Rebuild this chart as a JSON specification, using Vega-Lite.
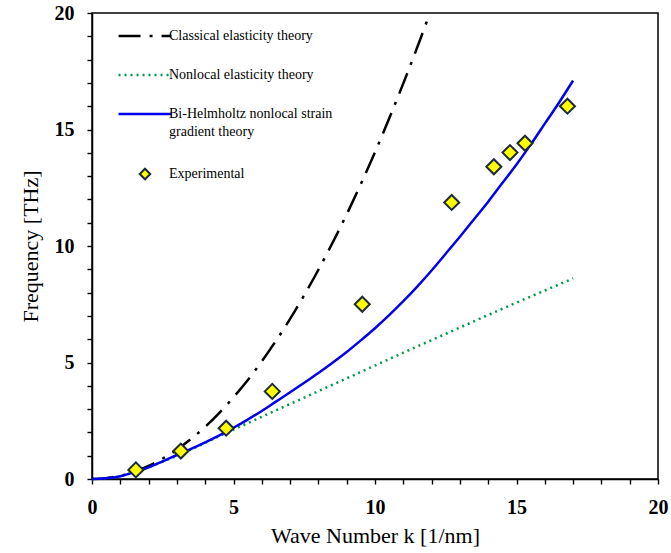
{
  "$schema": "https://vega.github.io/schema/vega-lite/v6.json",
  "autosize": "none",
  "width": 566,
  "height": 466,
  "padding": {"left": 92, "top": 13, "right": 13, "bottom": 74},
  "background": "white",
  "config": {
    "font": "Liberation Serif",
    "view": {"stroke": "#000000", "strokeWidth": 1.5},
    "axis": {
      "grid": false,
      "ticks": true,
      "domainColor": "#000000",
      "domainWidth": 1.5,
      "tickColor": "#000000",
      "tickWidth": 1.4,
      "tickSize": 5,
      "labelFont": "Liberation Serif",
      "labelFontWeight": "bold",
      "labelFontSize": 20,
      "labelColor": "#000000",
      "titleFont": "Liberation Serif",
      "titleFontWeight": "normal",
      "titleFontSize": 22,
      "titleColor": "#000000"
    }
  },
  "datasets": {
    "curves": [
      {"series": "Classical elasticity theory", "k": 0, "freq": 0},
      {"series": "Classical elasticity theory", "k": 0.5, "freq": 0.035},
      {"series": "Classical elasticity theory", "k": 1, "freq": 0.14},
      {"series": "Classical elasticity theory", "k": 1.5, "freq": 0.32},
      {"series": "Classical elasticity theory", "k": 2, "freq": 0.56},
      {"series": "Classical elasticity theory", "k": 2.5, "freq": 0.88},
      {"series": "Classical elasticity theory", "k": 3, "freq": 1.26},
      {"series": "Classical elasticity theory", "k": 3.5, "freq": 1.72},
      {"series": "Classical elasticity theory", "k": 4, "freq": 2.24},
      {"series": "Classical elasticity theory", "k": 4.5, "freq": 2.84},
      {"series": "Classical elasticity theory", "k": 5, "freq": 3.51},
      {"series": "Classical elasticity theory", "k": 5.5, "freq": 4.24},
      {"series": "Classical elasticity theory", "k": 6, "freq": 5.05},
      {"series": "Classical elasticity theory", "k": 6.5, "freq": 5.93},
      {"series": "Classical elasticity theory", "k": 7, "freq": 6.87},
      {"series": "Classical elasticity theory", "k": 7.5, "freq": 7.89},
      {"series": "Classical elasticity theory", "k": 8, "freq": 8.98},
      {"series": "Classical elasticity theory", "k": 8.5, "freq": 10.14},
      {"series": "Classical elasticity theory", "k": 9, "freq": 11.36},
      {"series": "Classical elasticity theory", "k": 9.5, "freq": 12.66},
      {"series": "Classical elasticity theory", "k": 10, "freq": 14.03},
      {"series": "Classical elasticity theory", "k": 10.5, "freq": 15.47},
      {"series": "Classical elasticity theory", "k": 11, "freq": 16.98},
      {"series": "Classical elasticity theory", "k": 11.5, "freq": 18.55},
      {"series": "Classical elasticity theory", "k": 11.94, "freq": 20.0},
      {"series": "Nonlocal elasticity theory", "k": 0, "freq": 0},
      {"series": "Nonlocal elasticity theory", "k": 0.5, "freq": 0.03},
      {"series": "Nonlocal elasticity theory", "k": 1, "freq": 0.12},
      {"series": "Nonlocal elasticity theory", "k": 1.5, "freq": 0.3},
      {"series": "Nonlocal elasticity theory", "k": 2, "freq": 0.5},
      {"series": "Nonlocal elasticity theory", "k": 2.5, "freq": 0.75},
      {"series": "Nonlocal elasticity theory", "k": 3, "freq": 1.0},
      {"series": "Nonlocal elasticity theory", "k": 3.5, "freq": 1.27},
      {"series": "Nonlocal elasticity theory", "k": 4, "freq": 1.55},
      {"series": "Nonlocal elasticity theory", "k": 4.5, "freq": 1.84},
      {"series": "Nonlocal elasticity theory", "k": 5, "freq": 2.12},
      {"series": "Nonlocal elasticity theory", "k": 6, "freq": 2.67},
      {"series": "Nonlocal elasticity theory", "k": 7, "freq": 3.22},
      {"series": "Nonlocal elasticity theory", "k": 8, "freq": 3.77},
      {"series": "Nonlocal elasticity theory", "k": 9, "freq": 4.32},
      {"series": "Nonlocal elasticity theory", "k": 10, "freq": 4.87},
      {"series": "Nonlocal elasticity theory", "k": 11, "freq": 5.42},
      {"series": "Nonlocal elasticity theory", "k": 12, "freq": 5.96},
      {"series": "Nonlocal elasticity theory", "k": 13, "freq": 6.5},
      {"series": "Nonlocal elasticity theory", "k": 14, "freq": 7.04},
      {"series": "Nonlocal elasticity theory", "k": 15, "freq": 7.57},
      {"series": "Nonlocal elasticity theory", "k": 16, "freq": 8.09},
      {"series": "Nonlocal elasticity theory", "k": 17, "freq": 8.61},
      {"series": "Bi-Helmholtz nonlocal strain gradient theory", "k": 0, "freq": 0},
      {"series": "Bi-Helmholtz nonlocal strain gradient theory", "k": 0.5, "freq": 0.03},
      {"series": "Bi-Helmholtz nonlocal strain gradient theory", "k": 1, "freq": 0.12},
      {"series": "Bi-Helmholtz nonlocal strain gradient theory", "k": 1.5, "freq": 0.3},
      {"series": "Bi-Helmholtz nonlocal strain gradient theory", "k": 2, "freq": 0.5},
      {"series": "Bi-Helmholtz nonlocal strain gradient theory", "k": 2.5, "freq": 0.76},
      {"series": "Bi-Helmholtz nonlocal strain gradient theory", "k": 3, "freq": 1.03},
      {"series": "Bi-Helmholtz nonlocal strain gradient theory", "k": 3.5, "freq": 1.29},
      {"series": "Bi-Helmholtz nonlocal strain gradient theory", "k": 4, "freq": 1.57},
      {"series": "Bi-Helmholtz nonlocal strain gradient theory", "k": 4.5, "freq": 1.87},
      {"series": "Bi-Helmholtz nonlocal strain gradient theory", "k": 5, "freq": 2.2},
      {"series": "Bi-Helmholtz nonlocal strain gradient theory", "k": 5.5, "freq": 2.55},
      {"series": "Bi-Helmholtz nonlocal strain gradient theory", "k": 6, "freq": 2.92},
      {"series": "Bi-Helmholtz nonlocal strain gradient theory", "k": 6.5, "freq": 3.32},
      {"series": "Bi-Helmholtz nonlocal strain gradient theory", "k": 7, "freq": 3.72},
      {"series": "Bi-Helmholtz nonlocal strain gradient theory", "k": 7.5, "freq": 4.13},
      {"series": "Bi-Helmholtz nonlocal strain gradient theory", "k": 8, "freq": 4.55},
      {"series": "Bi-Helmholtz nonlocal strain gradient theory", "k": 8.5, "freq": 4.99},
      {"series": "Bi-Helmholtz nonlocal strain gradient theory", "k": 9, "freq": 5.45},
      {"series": "Bi-Helmholtz nonlocal strain gradient theory", "k": 9.5, "freq": 5.95},
      {"series": "Bi-Helmholtz nonlocal strain gradient theory", "k": 10, "freq": 6.47},
      {"series": "Bi-Helmholtz nonlocal strain gradient theory", "k": 10.5, "freq": 7.03},
      {"series": "Bi-Helmholtz nonlocal strain gradient theory", "k": 11, "freq": 7.63},
      {"series": "Bi-Helmholtz nonlocal strain gradient theory", "k": 11.5, "freq": 8.27},
      {"series": "Bi-Helmholtz nonlocal strain gradient theory", "k": 12, "freq": 8.95},
      {"series": "Bi-Helmholtz nonlocal strain gradient theory", "k": 12.5, "freq": 9.67},
      {"series": "Bi-Helmholtz nonlocal strain gradient theory", "k": 13, "freq": 10.4},
      {"series": "Bi-Helmholtz nonlocal strain gradient theory", "k": 13.5, "freq": 11.15},
      {"series": "Bi-Helmholtz nonlocal strain gradient theory", "k": 14, "freq": 11.9},
      {"series": "Bi-Helmholtz nonlocal strain gradient theory", "k": 14.5, "freq": 12.7},
      {"series": "Bi-Helmholtz nonlocal strain gradient theory", "k": 15, "freq": 13.5},
      {"series": "Bi-Helmholtz nonlocal strain gradient theory", "k": 15.5, "freq": 14.35},
      {"series": "Bi-Helmholtz nonlocal strain gradient theory", "k": 16, "freq": 15.25},
      {"series": "Bi-Helmholtz nonlocal strain gradient theory", "k": 16.5, "freq": 16.15},
      {"series": "Bi-Helmholtz nonlocal strain gradient theory", "k": 17, "freq": 17.1}
    ],
    "exp": [
      {"series": "Experimental", "k": 1.55, "freq": 0.39},
      {"series": "Experimental", "k": 3.14, "freq": 1.2},
      {"series": "Experimental", "k": 4.74, "freq": 2.18},
      {"series": "Experimental", "k": 6.37, "freq": 3.76},
      {"series": "Experimental", "k": 9.55, "freq": 7.5},
      {"series": "Experimental", "k": 12.71, "freq": 11.87},
      {"series": "Experimental", "k": 14.2, "freq": 13.4},
      {"series": "Experimental", "k": 14.77, "freq": 14.01},
      {"series": "Experimental", "k": 15.3, "freq": 14.41},
      {"series": "Experimental", "k": 16.8, "freq": 16.0}
    ]
  },
  "encoding": {
    "x": {
      "field": "k", "type": "quantitative",
      "scale": {"domain": [0, 20], "nice": false, "zero": false},
      "axis": {
        "title": "Wave Number k [1/nm]",
        "values": [0,1,2,3,4,5,6,7,8,9,10,11,12,13,14,15,16,17,18,19,20],
        "labelExpr": "datum.value % 5 === 0 ? datum.label : ''",
        "labelPadding": 13,
        "titlePadding": 8,
        "labelFlush": false,
        "labelOverlap": false,
        "encode": {"ticks": {"update": {"y": {"value": -5}, "y2": {"value": 0}}}}
      }
    },
    "y": {
      "field": "freq", "type": "quantitative",
      "scale": {"domain": [0, 20], "nice": false, "zero": false},
      "axis": {
        "title": "Frequency [THz]",
        "values": [0,1,2,3,4,5,6,7,8,9,10,11,12,13,14,15,16,17,18,19,20],
        "labelExpr": "datum.value % 5 === 0 ? datum.label : ''",
        "labelPadding": 13,
        "titlePadding": 12,
        "labelFlush": false,
        "labelOverlap": false,
        "encode": {"ticks": {"update": {"x2": {"value": 5}}}}
      }
    },
    "color": {
      "field": "series", "type": "nominal",
      "scale": {
        "domain": ["Classical elasticity theory", "Nonlocal elasticity theory", "Bi-Helmholtz nonlocal strain gradient theory", "Experimental"],
        "range": ["#000000", "#00994c", "#0000ee", "#1c2a3a"]
      },
      "legend": {
        "orient": "none",
        "legendX": 46,
        "legendY": 16,
        "padding": 0,
        "title": null,
        "labelFont": "Liberation Serif",
        "labelFontSize": 14,
        "labelColor": "#000000",
        "labelLimit": 0,
        "labelOffset": 17,
        "rowPadding": 25,
        "symbolSize": 2800,
        "symbolStrokeWidth": 2.5,
        "labelExpr": "datum.value === 'Bi-Helmholtz nonlocal strain gradient theory' ? ['Bi-Helmholtz nonlocal strain', 'gradient theory'] : datum.label",
        "encode": {
          "labels": {"update": {"lineHeight": {"value": 18}}},
          "symbols": {
            "update": {
              "shape": {"signal": "datum.value === 'Experimental' ? 'diamond' : 'stroke'"},
              "size": {"signal": "datum.value === 'Experimental' ? 110 : 2800"},
              "strokeDash": {"signal": "datum.value === 'Classical elasticity theory' ? [22, 9, 3, 9] : (datum.value === 'Nonlocal elasticity theory' ? [2, 4] : null)"},
              "fill": {"signal": "datum.value === 'Experimental' ? '#ffff00' : 'transparent'"},
              "strokeWidth": {"signal": "datum.value === 'Experimental' ? 2 : 2.5"},
              "opacity": {"value": 1},
              "strokeOpacity": {"value": 1},
              "fillOpacity": {"value": 1}
            }
          }
        }
      }
    }
  },
  "layer": [
    {
      "data": {"name": "curves"},
      "transform": [{"filter": "datum.series === 'Classical elasticity theory'"}],
      "mark": {"type": "line", "strokeWidth": 2.5, "strokeDash": [22, 9, 3, 9], "interpolate": "monotone", "clip": true}
    },
    {
      "data": {"name": "curves"},
      "transform": [{"filter": "datum.series === 'Nonlocal elasticity theory'"}],
      "mark": {"type": "line", "strokeWidth": 2.5, "strokeDash": [2, 4], "interpolate": "monotone"}
    },
    {
      "data": {"name": "curves"},
      "transform": [{"filter": "datum.series === 'Bi-Helmholtz nonlocal strain gradient theory'"}],
      "mark": {"type": "line", "strokeWidth": 2.5, "interpolate": "monotone"}
    },
    {
      "data": {"name": "exp"},
      "mark": {"type": "point", "shape": "diamond", "filled": false, "fill": "#ffff00", "fillOpacity": 1, "size": 225, "strokeWidth": 2, "opacity": 1}
    }
  ]
}
